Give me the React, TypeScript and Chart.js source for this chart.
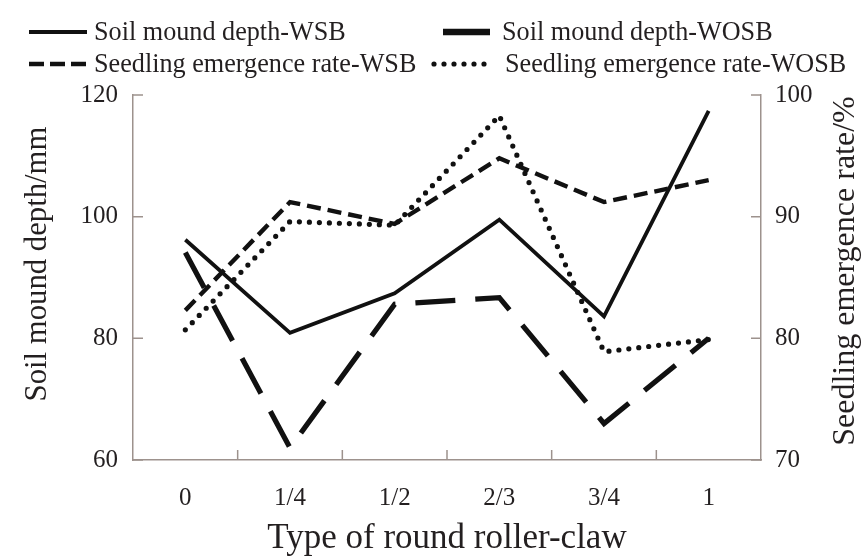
import React, { useEffect, useRef } from "react";
import { Chart, registerables } from "chart.js";

Chart.register(...registerables);

const categories = ["0", "1/4", "1/2", "2/3", "3/4", "1"];
const moundWSB = [96.2, 80.9, 87.4, 99.5, 83.6, 117.4];
const moundWOSB = [94.1, 62.0, 85.6, 86.7, 66.0, 80.0];
const emergenceWSB = [82.3, 91.2, 89.4, 94.8, 91.2, 93.0];
const emergenceWOSB = [80.7, 89.6, 89.3, 98.3, 78.9, 79.9];

const seriesNames = [
  "Soil mound depth-WSB",
  "Soil mound depth-WOSB",
  "Seedling emergence rate-WSB",
  "Seedling emergence rate-WOSB",
];
const xTitle = "Type of round roller-claw";
const yLeftTitle = "Soil mound depth/mm";
const yRightTitle = "Seedling emergence rate/%";

const FONT = '"Liberation Serif", "Times New Roman", serif';
const TEXT = "#231f20";
const AXIS = "#9d928d";
const LINE = "#111111";

const styles = [
  { width: 3.8, dash: [] as number[], cap: "butt" as CanvasLineCap },
  { width: 5.2, dash: [40, 20], cap: "butt" as CanvasLineCap },
  { width: 4.4, dash: [14, 7], cap: "butt" as CanvasLineCap },
  { width: 5.2, dash: [0, 10], cap: "round" as CanvasLineCap },
];

function squeezedText(ctx: CanvasRenderingContext2D, text: string, x: number, y: number, sx: number) {
  ctx.save();
  ctx.translate(x, y);
  ctx.scale(sx, 1);
  ctx.fillText(text, 0, 0);
  ctx.restore();
}

const decorPlugin = {
  id: "decor",
  afterDraw(chart: any) {
    const ctx = chart.ctx as CanvasRenderingContext2D;
    const { left, right, bottom } = chart.chartArea;
    const x = chart.scales.x;
    const y = chart.scales.y;
    const y1 = chart.scales.y1;
    ctx.save();
    ctx.strokeStyle = AXIS;
    ctx.lineWidth = 1.5;
    ctx.setLineDash([]);
    ctx.beginPath();
    y.ticks.forEach((t: any) => {
      const p = y.getPixelForValue(t.value);
      ctx.moveTo(left, p);
      ctx.lineTo(left + 10, p);
    });
    y1.ticks.forEach((t: any) => {
      const p = y1.getPixelForValue(t.value);
      ctx.moveTo(right, p);
      ctx.lineTo(right - 10, p);
    });
    for (let i = 0; i < categories.length - 1; i++) {
      const p = (x.getPixelForValue(i) + x.getPixelForValue(i + 1)) / 2;
      ctx.moveTo(p, bottom);
      ctx.lineTo(p, bottom - 10);
    }
    ctx.stroke();

    ctx.fillStyle = TEXT;
    ctx.textBaseline = "middle";
    ctx.textAlign = "center";
    ctx.font = `35px ${FONT}`;
    squeezedText(ctx, xTitle, (left + right) / 2, 539, 1.0);
    ctx.save();
    ctx.translate(38, 264);
    ctx.rotate(-Math.PI / 2);
    ctx.font = `32px ${FONT}`;
    squeezedText(ctx, yLeftTitle, 0, 0, 0.96);
    ctx.restore();
    ctx.save();
    ctx.translate(846, 271);
    ctx.rotate(-Math.PI / 2);
    ctx.font = `32px ${FONT}`;
    squeezedText(ctx, yRightTitle, 0, 0, 1.0);
    ctx.restore();

    const items = [
      { x0: 29, x1: 87, tx: 94, y: 32 },
      { x0: 443, x1: 490, tx: 502, y: 32 },
      { x0: 29, x1: 87, tx: 94, y: 64 },
      { x0: 434, x1: 488, tx: 505, y: 64 },
    ];
    ctx.font = `27px ${FONT}`;
    ctx.textAlign = "left";
    items.forEach((it, i) => {
      const s = styles[i];
      ctx.strokeStyle = LINE;
      ctx.lineWidth = i === 1 ? 6.5 : i === 0 ? 4 : s.width;
      ctx.lineCap = s.cap;
      ctx.setLineDash(i === 1 ? [] : i === 2 ? [15, 6] : s.dash);
      ctx.beginPath();
      ctx.moveTo(it.x0, it.y);
      ctx.lineTo(it.x1, it.y);
      ctx.stroke();
      ctx.fillStyle = TEXT;
      squeezedText(ctx, seriesNames[i], it.tx, it.y + 1, 0.97);
    });
    ctx.restore();
  },
};

export default function App() {
  const ref = useRef<HTMLCanvasElement | null>(null);
  useEffect(() => {
    if (!ref.current) return;
    const mk = (label: string, data: number[], i: number, axis: string) => ({
      label,
      data,
      yAxisID: axis,
      borderColor: LINE,
      backgroundColor: LINE,
      borderWidth: styles[i].width,
      borderDash: styles[i].dash,
      borderCapStyle: styles[i].cap,
      borderJoinStyle: "miter" as const,
      pointRadius: 0,
      tension: 0,
      fill: false,
    });
    const chart = new Chart(ref.current, {
      type: "line",
      data: {
        labels: categories,
        datasets: [
          mk(seriesNames[0], moundWSB, 0, "y"),
          mk(seriesNames[1], moundWOSB, 1, "y"),
          mk(seriesNames[2], emergenceWSB, 2, "y1"),
          mk(seriesNames[3], emergenceWOSB, 3, "y1"),
        ],
      },
      options: {
        animation: false,
        responsive: false,
        devicePixelRatio: 1,
        layout: { padding: { top: 95, left: 0, right: 0, bottom: 0 } },
        plugins: { legend: { display: false }, tooltip: { enabled: false } },
        scales: {
          x: {
            type: "category",
            offset: true,
            grid: { display: false, drawTicks: false },
            border: { display: true, color: AXIS, width: 1.5 },
            ticks: { font: { family: FONT, size: 25 }, color: TEXT, padding: 23 },
            afterFit: (s: any) => {
              s.height = 100;
            },
          },
          y: {
            position: "left",
            min: 60,
            max: 120,
            grid: { display: false, drawTicks: false },
            border: { display: true, color: AXIS, width: 1.5 },
            ticks: { stepSize: 20, font: { family: FONT, size: 25 }, color: TEXT, padding: 15 },
            afterFit: (s: any) => {
              s.width = 133;
            },
          },
          y1: {
            position: "right",
            min: 70,
            max: 100,
            grid: { display: false, drawTicks: false },
            border: { display: true, color: AXIS, width: 1.5 },
            ticks: { stepSize: 10, font: { family: FONT, size: 25 }, color: TEXT, padding: 14 },
            afterFit: (s: any) => {
              s.width = 106;
            },
          },
        },
      },
      plugins: [decorPlugin],
    });
    return () => chart.destroy();
  }, []);
  return (
    <div style={{ position: "absolute", left: 0, top: 0, width: 867, height: 560, background: "#fff" }}>
      <canvas ref={ref} width={867} height={560} style={{ width: 867, height: 560 }} />
    </div>
  );
}
